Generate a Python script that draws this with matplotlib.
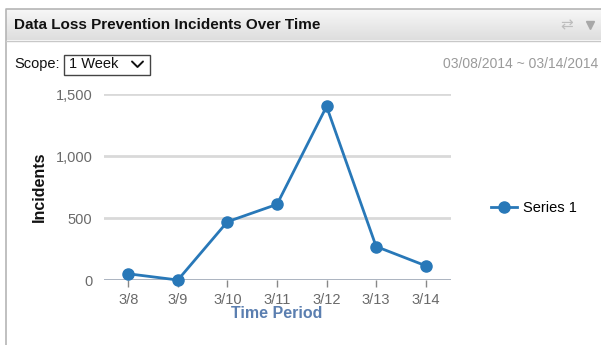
import numpy as np
import matplotlib.pyplot as plt
from matplotlib.patches import Rectangle
from matplotlib.colors import LinearSegmentedColormap

plt.rcParams['font.family'] = ['Liberation Sans', 'DejaVu Sans']

# incidents per day
days = ['3/8', '3/9', '3/10', '3/11', '3/12', '3/13', '3/14']
incidents = [50, 0, 470, 610, 1400, 270, 115]
y_ticks = [0, 500, 1000, 1500]
y_tick_labels = ['0', '500', '1,000', '1,500']

title = 'Data Loss Prevention Incidents Over Time'
date_range = '03/08/2014 ~ 03/14/2014'
series_name = 'Series 1'

W, H = 601, 345
fig = plt.figure(figsize=(W / 100, H / 100), dpi=100)


def fx(px):
    return px / W


def fy(py):
    return 1 - py / H


# panel frame and header bar
bg = fig.add_axes([0, 0, 1, 1])
bg.set_xlim(0, W)
bg.set_ylim(H, 0)
bg.axis('off')
grad = np.linspace(0, 1, 32).reshape(-1, 1)
hdr_cmap = LinearSegmentedColormap.from_list('hdr', ['#f7f7f7', '#dedede'])
bg.imshow(grad, extent=(6, W, 40, 9), cmap=hdr_cmap, aspect='auto', zorder=0)
bg.plot([5.5, 5.5, W], [H, 8.5, 8.5], color='#b5b5b5', lw=1.2, zorder=2)
bg.plot([6, W], [40.5, 40.5], color='#c8c8c8', lw=1, zorder=2)
bg.text(14, 25, title, fontsize=11, fontweight='bold', color='#111111', va='center', ha='left')
bg.text(567, 25, '\u21c4', fontsize=11, color='#bdbdbd', va='center', ha='center',
        family=['DejaVu Sans'])
bg.plot([590], [25], marker='v', ms=6, color='#a8a8a8', zorder=3)

# scope selector
bg.text(14, 64, 'Scope:', fontsize=10.5, color='#111111', va='center', ha='left')
bg.add_patch(Rectangle((63.5, 54.5), 86, 20, facecolor='white', edgecolor='#444444', lw=1))
bg.text(69, 64.5, '1 Week', fontsize=10.5, color='#111111', va='center', ha='left')
bg.plot([132, 137.5, 143], [61.5, 67, 61.5], color='#111111', lw=1.4, solid_capstyle='round')
bg.text(598, 64, date_range, fontsize=10, color='#9a9a9a', va='center', ha='right')

# chart area
ax = fig.add_axes([fx(103.5), fy(280), fx(450.5) - fx(103.5), fy(94) - fy(280)])
x = np.arange(len(days))
line_color = '#2878b8'
ax.plot(x, incidents, color=line_color, lw=2, marker='o', ms=8, label=series_name,
        zorder=4, clip_on=False)
ax.set_xlim(-0.5, len(days) - 0.5)
ax.set_ylim(0, 1500)
for v in y_ticks[1:]:
    ax.axhline(v, color='#d9d9d9', lw=2, zorder=1)
ax.axhline(0, color='#a3acba', lw=2, zorder=2)
for s in ax.spines.values():
    s.set_visible(False)
ax.set_yticks(y_ticks)
ax.set_yticklabels(y_tick_labels, fontsize=10.5, color='#6a6a6a')
ax.tick_params(axis='y', length=0, pad=8)
ax.set_xticks(x)
ax.set_xticklabels(days, fontsize=10.5, color='#6a6a6a')
ax.tick_params(axis='x', length=5, width=1, color='#888888', pad=4)
ax.set_xlabel('Time Period', fontsize=11.5, fontweight='bold', color='#5b7fb0', labelpad=0)
ax.set_ylabel('Incidents', fontsize=11.5, fontweight='bold', color='#111111', labelpad=6)

# legend position in axes fraction
ax_w = fx(450.5) - fx(103.5)
ax_h = fy(94) - fy(280)
leg_x = (fx(491) - fx(103.5)) / ax_w
leg_y = (fy(208) - fy(280)) / ax_h
ax.legend(loc='center left', bbox_to_anchor=(leg_x, leg_y), frameon=False, fontsize=10.5,
          handlelength=1.8, handletextpad=0.4, borderaxespad=0, borderpad=0)

fig.savefig('out.png', dpi=100)
